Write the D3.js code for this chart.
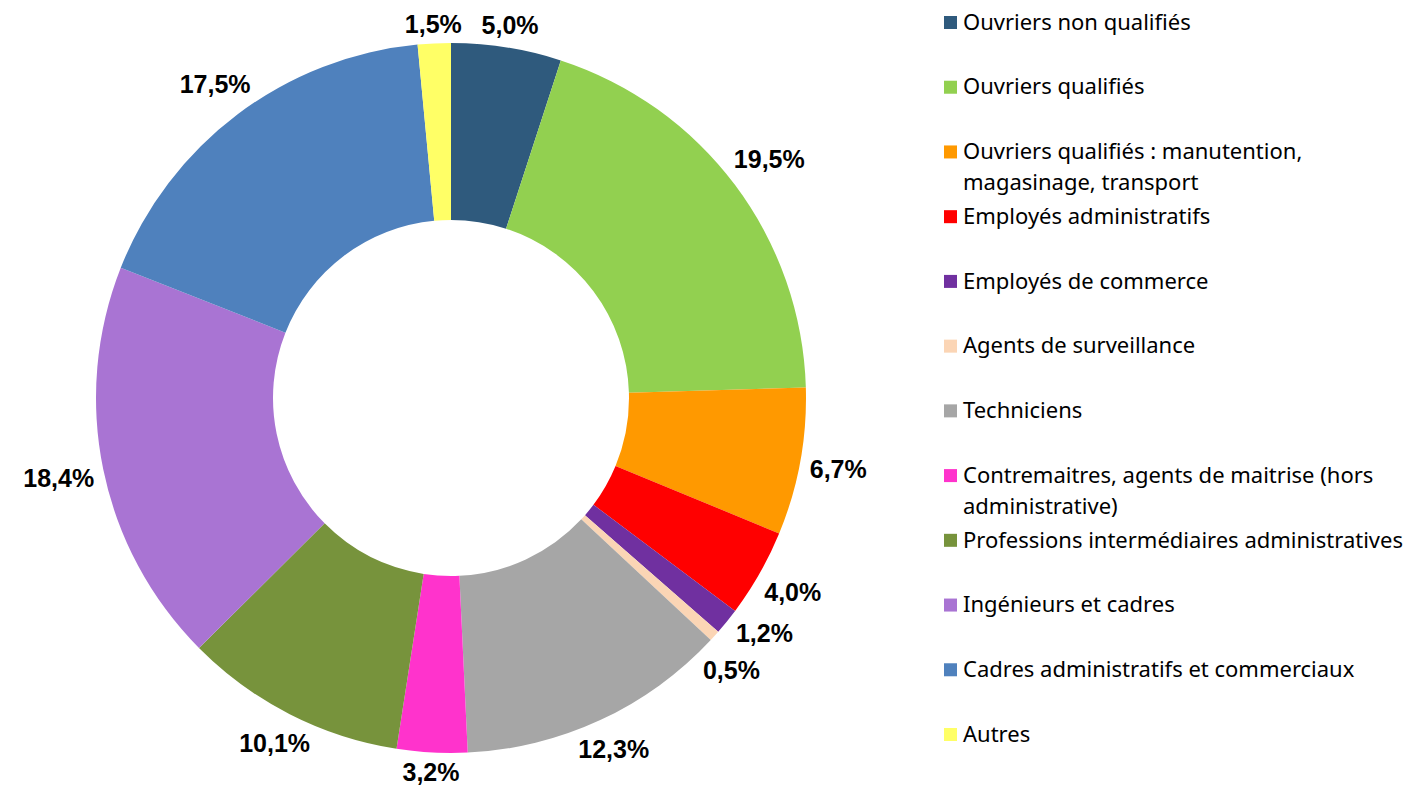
<!DOCTYPE html>
<meta charset="utf-8">
<style>
  body { margin: 0; background: #fff; }
  .pct { font: bold 25px "Liberation Sans", Arial, sans-serif; fill: #000; }
  .leg { font: 22px "Noto Sans", "Open Sans", sans-serif; fill: #000; }
</style>
<svg width="1413" height="786"></svg>
<script src="https://d3js.org/d3.v7.min.js"></script>
<script>
  var categories = [
    "Ouvriers non qualifiés",
    "Ouvriers qualifiés",
    "Ouvriers qualifiés : manutention,\nmagasinage, transport",
    "Employés administratifs",
    "Employés de commerce",
    "Agents de surveillance",
    "Techniciens",
    "Contremaitres, agents de maitrise (hors\nadministrative)",
    "Professions intermédiaires administratives",
    "Ingénieurs et cadres",
    "Cadres administratifs et commerciaux",
    "Autres"
  ];
  var values = [5.0, 19.5, 6.7, 4.0, 1.2, 0.5, 12.3, 3.2, 10.1, 18.4, 17.5, 1.5];
  var colors = ["#2f5a7d", "#92d050", "#ff9900", "#ff0000", "#7030a0", "#fbd5b5",
    "#a6a6a6", "#ff33cc", "#77933c", "#a974d3", "#4f81bd", "#ffff66"];

  var svg = d3.select("svg"),
    cx = 451, cy = 398,
    outerR = 355, innerR = 178;

  svg.append("rect").attr("width", "100%").attr("height", "100%").attr("fill", "#fff");

  var color = d3.scaleOrdinal().domain(categories).range(colors);

  var pie = d3.pie().sort(null).value(function(d, i) { return values[i]; });
  var arcs = pie(categories);
  var arc = d3.arc().innerRadius(innerR).outerRadius(outerR);

  var g = svg.append("g").attr("transform", "translate(" + cx + "," + cy + ")");

  g.selectAll("path")
    .data(arcs)
    .enter().append("path")
    .attr("d", arc)
    .attr("fill", function(d) { return color(d.data); });

  // labels outside the ring
  var fmt = function(v) { return v.toFixed(1).replace(".", ",") + "%"; };
  var labels = g.selectAll("text.pct")
    .data(arcs)
    .enter().append("text")
    .attr("class", "pct")
    .attr("text-anchor", "middle")
    .attr("dy", "0.35em")
    .text(function(d) { return fmt(values[d.index]); });

  var items = [];
  labels.each(function(d) {
    var w = this.getComputedTextLength();
    items.push({ node: this, a: (d.startAngle + d.endAngle) / 2, hw: w / 2, hh: 9 });
  });

  function place(it) {
    var s = Math.sin(it.a), c = -Math.cos(it.a);
    var r = outerR + 9 + Math.abs(s) * it.hw + Math.abs(c) * it.hh;
    it.x = s * r; it.y = c * r;
  }
  items.forEach(place);

  // push neighbouring labels apart when they collide
  for (var k = 0; k < 300; k++) {
    var moved = false;
    for (var i = 0; i < items.length; i++) {
      var p = items[i], q = items[(i + 1) % items.length];
      var ox = (p.hw + q.hw + 16) - Math.abs(p.x - q.x);
      var oy = (p.hh + q.hh + 18) - Math.abs(p.y - q.y);
      if (ox > 0 && oy > 0) {
        p.a -= 0.004; q.a += 0.004;
        place(p); place(q);
        moved = true;
      }
    }
    if (!moved) break;
  }

  items.forEach(function(it) {
    d3.select(it.node).attr("x", it.x).attr("y", it.y);
  });

  // legend
  var ly = d3.scalePoint().domain(categories).range([22, 734]);
  var legend = svg.append("g").selectAll("g")
    .data(categories)
    .enter().append("g")
    .attr("transform", function(d) { return "translate(944," + ly(d) + ")"; });

  legend.append("rect")
    .attr("x", 0).attr("y", -6)
    .attr("width", 13).attr("height", 13)
    .attr("fill", function(d) { return color(d); });

  legend.append("text")
    .attr("class", "leg")
    .attr("x", 19)
    .attr("y", 0)
    .each(function(d) {
      var t = d3.select(this);
      d.split("\n").forEach(function(line, j) {
        t.append("tspan").attr("x", 19).attr("y", j * 31).attr("dy", "0.35em").text(line);
      });
    });
</script>
